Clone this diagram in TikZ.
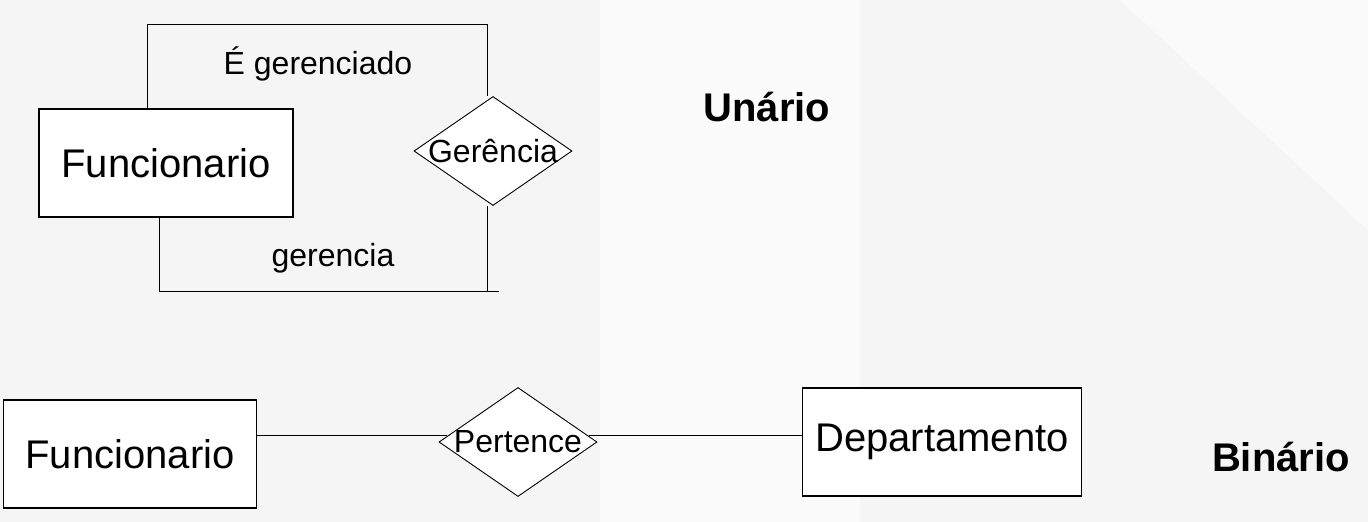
\documentclass[tikz,border=0pt]{standalone}
\usepackage{fontspec}
\setmainfont{Liberation Sans}
\usepackage{tikz}
\usetikzlibrary{shapes.geometric}
\usepackage{xcolor}
\definecolor{fundo}{RGB}{245,245,245}

\begin{document}
\begin{tikzpicture}[x=1pt,y=-1pt]
\tikzstyle{entidade} =[draw, fill=white, line width=1.2pt, inner sep=0pt, font=\fontsize{40}{48}\selectfont]
\tikzstyle{relac} =[diamond, draw, fill=white, line width=0.9pt, inner sep=0pt, minimum width=158pt, minimum height=109pt]
\tikzstyle{rotulo} =[font=\fontsize{32}{38}\selectfont, inner sep=0pt]
\tikzstyle{titulo} =[font=\fontsize{40}{48}\selectfont\bfseries, inner sep=0pt]

\fill[fundo] (0,0) rectangle (1368,522);
\fill[white,opacity=0.6] (600,0) -- (860,0) -- (860,522) -- (600,522) -- cycle;
\fill[white,opacity=0.5] (1120,0) -- (1368,0) -- (1368,230) -- cycle;
\useasboundingbox (0,0) rectangle (1368,522);

% unario
\node[entidade,minimum width=254pt,minimum height=108pt](func1) at (166,163){Funcionario};
\node[relac,label={[rotulo]center:Gerência}](ger) at (493,151){};
\coordinate (topR) at (487,24);
\coordinate (botR) at (499,291);
\draw [line width=0.8pt] ([xshift=109pt]func1.north west) |- (topR) -- (topR |- ger.north);
\draw [line width=0.8pt] ([xshift=121pt]func1.south west) |- (botR);
\draw [line width=0.8pt] (ger.south -| topR) -- (topR |- botR);
\node[rotulo](eger) at (318,64){É gerenciado};
\node[rotulo](gerc) at (333,258){gerencia};
\node[titulo](un) at (767,107){Unário};

% binario
\node[entidade,minimum width=253pt,minimum height=108pt](func2) at (130,454){Funcionario};
\node[relac,label={[rotulo]center:Pertence}](pert) at (518,442){};
\node[entidade,minimum width=279pt,minimum height=108pt](dep) at (942,442){Departamento};
\draw [line width=0.8pt] (func2.east |- pert.175) -- (pert.175);
\draw [line width=0.8pt] (pert.5) -- (dep.west |- pert.5);
\node[titulo](bin) at (1281,457){Binário};
\end{tikzpicture}
\end{document}
